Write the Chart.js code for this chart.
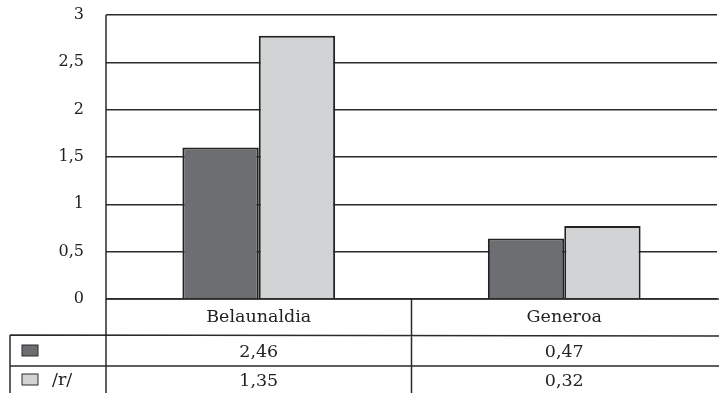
<!DOCTYPE html>
<html>
<head>
<meta charset="utf-8">
<script src="https://cdn.jsdelivr.net/npm/chart.js@4"></script>
<style>
  html, body { margin: 0; padding: 0; background: #fff; }
  #wrap { width: 719px; height: 393px; }
</style>
</head>
<body>
<div id="wrap"><canvas id="barChart" width="719" height="393"></canvas></div>
<script>
// categories and series
const categories = ["Belaunaldia", "Generoa"];
const seriesNames = ["", "/r/"];
const darkValues = [1.6, 0.64];
const lightValues = [2.78, 0.77];
// values printed in the data table under the axis
const tableDark = [2.46, 0.47];
const tableLight = [1.35, 0.32];
const yTicks = [0, 0.5, 1, 1.5, 2, 2.5, 3];

const darkFill = "#6d6e71";
const lightFill = "#d1d3d4";
const lineColor = "#2b2b2b";
const fontFamily = "'DejaVu Serif', serif";

function comma(v) {
  return String(v).replace(".", ",");
}

// draws the data table (category row + one row per series) under the plot
const dataTable = {
  id: "dataTable",
  afterDraw(chart) {
    const ctx = chart.ctx;
    const area = chart.chartArea;
    const x = chart.scales.x;
    const W = chart.width, H = chart.height;
    const rowTop = [area.bottom, 336, 366];
    const rowBottom = [336, 366, H];
    const half = (area.right - area.left) / categories.length / 2;

    ctx.save();
    ctx.strokeStyle = lineColor;
    ctx.lineWidth = 1.5;

    // horizontal rules
    ctx.beginPath();
    ctx.moveTo(area.left, area.bottom); ctx.lineTo(W, area.bottom);
    ctx.moveTo(10, 335); ctx.lineTo(W, 336);
    ctx.moveTo(10, 366); ctx.lineTo(W, 366);
    // verticals: axis line down through table, left border, category divider
    ctx.moveTo(area.left, area.top); ctx.lineTo(area.left, H);
    ctx.moveTo(10, 335); ctx.lineTo(10, H);
    for (let i = 1; i < categories.length; i++) {
      const bx = x.getPixelForValue(i) - half;
      ctx.moveTo(bx, area.bottom); ctx.lineTo(bx, H);
    }
    ctx.stroke();

    ctx.fillStyle = "#222";
    ctx.font = "17.5px " + fontFamily;
    ctx.textAlign = "center";
    ctx.textBaseline = "middle";
    categories.forEach((c, i) => {
      const cx = x.getPixelForValue(i);
      ctx.fillText(c, cx, (rowTop[0] + rowBottom[0]) / 2);
      ctx.fillText(comma(tableDark[i]), cx, (rowTop[1] + rowBottom[1]) / 2 + 1);
      ctx.fillText(comma(tableLight[i]), cx, (rowTop[2] + rowBottom[2]) / 2 + 2);
    });

    // legend keys
    const keys = [darkFill, lightFill];
    keys.forEach((fill, r) => {
      const ky = r === 0 ? 345 : 374;
      ctx.fillStyle = fill;
      ctx.fillRect(22, ky, 16, 11);
      ctx.lineWidth = 1;
      ctx.strokeRect(22, ky, 16, 11);
      ctx.fillStyle = "#222";
      ctx.textAlign = "left";
      ctx.fillText(seriesNames[r], 52, ky + 6);
    });
    ctx.restore();
  }
};

new Chart(document.getElementById("barChart"), {
  type: "bar",
  data: {
    labels: categories,
    datasets: [
      {
        label: seriesNames[0],
        data: darkValues,
        backgroundColor: darkFill,
        borderColor: "#222",
        borderWidth: 2,
      },
      {
        label: seriesNames[1],
        data: lightValues,
        backgroundColor: lightFill,
        borderColor: "#222",
        borderWidth: 2,
      },
    ],
  },
  options: {
    responsive: false,
    animation: false,
    layout: { padding: { top: 15, right: 2, bottom: 94, left: 0 } },
    datasets: {
      bar: { categoryPercentage: 0.5, barPercentage: 1.0 },
    },
    plugins: {
      legend: { display: false },
      tooltip: { enabled: false },
    },
    scales: {
      x: {
        display: false,
      },
      y: {
        min: 0,
        max: 3,
        afterFit(scale) {
          scale.width = 106;
          scale.paddingTop = 0;
          scale.paddingBottom = 0;
        },
        afterBuildTicks(scale) {
          scale.ticks = yTicks.map((v) => ({ value: v }));
        },
        border: { display: false },
        grid: {
          color: lineColor,
          lineWidth: 1.5,
          drawTicks: false,
        },
        ticks: {
          padding: 22,
          color: "#222",
          font: { family: fontFamily, size: 16 },
          callback: (v) => comma(v),
        },
      },
    },
  },
  plugins: [dataTable],
});
</script>
</body>
</html>
